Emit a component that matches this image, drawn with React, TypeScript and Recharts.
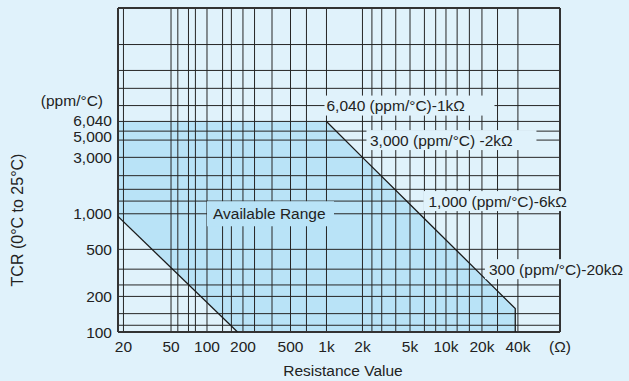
import {
  Area,
  ComposedChart,
  Line,
  ReferenceDot,
  ReferenceLine,
  XAxis,
  YAxis,
} from "recharts";

const xTicks = [20, 50, 100, 200, 500, 1000, 2000, 5000, 10000, 20000, 40000, 90000];
const xTickLabels = ["20", "50", "100", "200", "500", "1k", "2k", "5k", "10k", "20k", "40k", "(Ω)"];
const yTicks = [100, 200, 500, 1000, 3000, 5000, 6040];
const yTickLabels = ["100", "200", "500", "1,000", "3,000", "5,000", "6,040"];

// grid lines of the printed chart (not evenly spaced)
const xGrid = [
  20, 50, 57, 70, 80, 100, 135, 160, 200, 250, 350, 500, 680, 1000, 2000, 2400,
  2900, 3800, 5000, 6600, 8200, 10000, 12400, 15700, 20000, 27000, 40000,
];
const yGrid = [
  114, 143, 200, 250, 340, 500, 1000, 1280, 1610, 2100, 3000, 4200, 5000, 6040,
  8225, 11500, 16300, 27000,
];

// available range: resistance (Ω) with lower / upper TCR bound
const rangeR = [18, 180, 1000, 38000];
const rangeLow = [950, 100, 100, 100];
const rangeHigh = [6040, 6040, 6040, 158];

// upper limit line
const limitR = [1000, 2000, 6000, 20000, 38000, 38000];
const limitTCR = [6040, 3000, 1000, 300, 158, 100];

// lower limit line
const lowerR = [18, 180];
const lowerTCR = [950, 100];

const noteText = [
  "6,040 (ppm/°C)-1kΩ",
  "3,000 (ppm/°C) -2kΩ",
  "1,000 (ppm/°C)-6kΩ",
  "300 (ppm/°C)-20kΩ",
];
const noteR = [1000, 2000, 6000, 20000];
const noteTCR = [8225, 4200, 1280, 340];

const BG = "#e0f2fb";
const FILL = "#b9e3f7";
const INK = "#222";
const GRID = "#262626";
const FONT = 15.5;

// box / text offsets for each note, px from its anchor
const noteLayout = [
  { boxX: -2, textX: 0, boxW: 170 },
  { boxX: 4, textX: 7.5, boxW: 170 },
  { boxX: 4, textX: 9, boxW: 155 },
  { boxX: 3, textX: 7, boxW: 150 },
];

// the printed labels 6,040 and 5,000 sit further apart than the log scale allows
const yLabelNudge: Record<number, number> = { 6040: -1, 5000: 5 };

const rangeData = rangeR.map((r, i) => ({ r, low: rangeLow[i], high: rangeHigh[i] }));
const limitData = limitR.map((r, i) => ({ r, tcr: limitTCR[i] }));
const lowerData = lowerR.map((r, i) => ({ r, tcr: lowerTCR[i] }));

function NoteLabel(props: any) {
  const { viewBox, text, textX, boxX, boxW, boxH = 20, fill = BG } = props;
  const x = viewBox?.x ?? 0;
  const y = viewBox?.y ?? 0;
  return (
    <g>
      <rect x={x + boxX} y={y - boxH / 2} width={boxW} height={boxH} fill={fill} />
      <text x={x + textX} y={y} dominantBaseline="central" fontSize={FONT} fill={INK}>
        {text}
      </text>
    </g>
  );
}

function UnitLabel(props: any) {
  const { viewBox } = props;
  return (
    <text
      x={(viewBox?.x ?? 0) - 15}
      y={viewBox?.y ?? 0}
      textAnchor="end"
      dominantBaseline="central"
      fontSize={FONT}
      fill={INK}
    >
      (ppm/°C)
    </text>
  );
}

function YTick(props: any) {
  const { x, y, payload } = props;
  const v = payload.value;
  return (
    <text
      x={x}
      y={y + (yLabelNudge[v] ?? 0)}
      textAnchor="end"
      dominantBaseline="central"
      fontSize={FONT}
      fill={INK}
    >
      {yTickLabels[yTicks.indexOf(v)] ?? ""}
    </text>
  );
}

function YTitle(props: any) {
  const { viewBox } = props;
  const x = viewBox.x + 17;
  const y = viewBox.y + viewBox.height / 2 + 50;
  return (
    <text
      x={x}
      y={y}
      transform={`rotate(-90 ${x} ${y})`}
      textAnchor="middle"
      dominantBaseline="central"
      fontSize={16}
      fill={INK}
    >
      TCR (0°C  to 25°C)
    </text>
  );
}

function XTitle(props: any) {
  const { viewBox } = props;
  return (
    <text
      x={viewBox.x + viewBox.width / 2 + 4}
      y={viewBox.y + 38}
      textAnchor="middle"
      dominantBaseline="central"
      fontSize={FONT}
      fill={INK}
    >
      Resistance Value
    </text>
  );
}

export default function App() {
  return (
    <div
      style={{
        position: "absolute",
        left: 0,
        top: 0,
        width: 629,
        height: 381,
        background: BG,
        fontFamily: '"Liberation Sans", Arial, Helvetica, sans-serif',
      }}
    >
      <ComposedChart
        width={629}
        height={381}
        data={rangeData}
        margin={{ top: 8, right: 69, bottom: 0, left: 0 }}
      >
        <XAxis
          dataKey="r"
          type="number"
          scale="log"
          domain={[18, 90000]}
          allowDataOverflow
          ticks={xTicks}
          interval={0}
          tickFormatter={(v) => xTickLabels[xTicks.indexOf(v)] ?? ""}
          tick={{ fill: INK, fontSize: FONT }}
          tickLine={false}
          axisLine={false}
          tickMargin={3}
          height={49}
          label={<XTitle />}
        />
        <YAxis
          type="number"
          scale="log"
          domain={[100, 55000]}
          allowDataOverflow
          ticks={yTicks}
          interval={0}
          tick={(p: any) => <YTick {...p} />}
          tickLine={false}
          axisLine={false}
          tickMargin={0}
          width={118}
          label={<YTitle />}
        />

        <Area
          type="linear"
          dataKey={(d: any) => [d.low, d.high]}
          stroke="none"
          fill={FILL}
          fillOpacity={1}
          isAnimationActive={false}
          zIndex={100}
        />

        {xGrid.map((v) => (
          <ReferenceLine key={`x${v}`} x={v} stroke={GRID} strokeWidth={1} zIndex={300} />
        ))}
        {yGrid.map((v) => (
          <ReferenceLine key={`y${v}`} y={v} stroke={GRID} strokeWidth={1} zIndex={300} />
        ))}

        <ReferenceLine x={18} stroke="#333" strokeWidth={2} ifOverflow="visible" zIndex={310} />
        <ReferenceLine x={90000} stroke="#333" strokeWidth={2} ifOverflow="visible" zIndex={310} />
        <ReferenceLine y={100} stroke="#333" strokeWidth={2} ifOverflow="visible" zIndex={310} />
        <ReferenceLine y={55000} stroke="#333" strokeWidth={2} ifOverflow="visible" zIndex={310} />

        <Line
          data={limitData}
          dataKey="tcr"
          type="linear"
          stroke="#1a1a1a"
          strokeWidth={1.3}
          dot={false}
          activeDot={false}
          isAnimationActive={false}
          zIndex={400}
        />
        <Line
          data={lowerData}
          dataKey="tcr"
          type="linear"
          stroke="#1a1a1a"
          strokeWidth={1.3}
          dot={false}
          activeDot={false}
          isAnimationActive={false}
          zIndex={400}
        />

        {noteText.map((t, i) => (
          <ReferenceDot
            key={t}
            x={noteR[i]}
            y={noteTCR[i]}
            r={0}
            fill="none"
            stroke="none"
            ifOverflow="visible"
            zIndex={2000}
            label={<NoteLabel text={t} {...noteLayout[i]} />}
          />
        ))}
        <ReferenceDot
          x={100}
          y={1000}
          r={0}
          fill="none"
          stroke="none"
          ifOverflow="visible"
          zIndex={2000}
          label={
            <NoteLabel text="Available Range" boxX={0} textX={6} boxW={127} boxH={25} fill={FILL} />
          }
        />
        <ReferenceDot
          x={18}
          y={9000}
          r={0}
          fill="none"
          stroke="none"
          ifOverflow="visible"
          zIndex={2000}
          label={<UnitLabel />}
        />
      </ComposedChart>
    </div>
  );
}
